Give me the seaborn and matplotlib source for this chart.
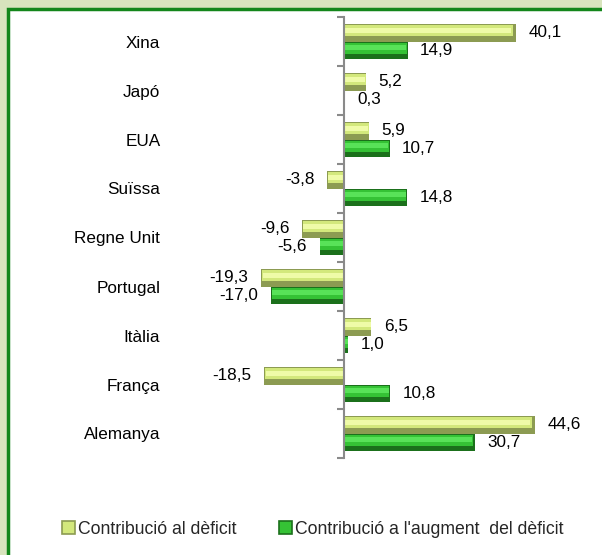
import numpy as np
import pandas as pd
import matplotlib
matplotlib.use("Agg")
import matplotlib.pyplot as plt
from matplotlib.patches import Rectangle, Patch
from matplotlib.ticker import FixedLocator
import seaborn as sns

categories = ["Xina", "Japó", "EUA", "Suïssa", "Regne Unit", "Portugal", "Itàlia", "França", "Alemanya"]
series_names = ["Contribució al dèficit", "Contribució a l'augment  del dèficit"]
contrib_deficit = [40.1, 5.2, 5.9, -3.8, -9.6, -19.3, 6.5, -18.5, 44.6]
contrib_augment = [14.9, 0.3, 10.7, 14.8, -5.6, -17.0, 1.0, 10.8, 30.7]

df = pd.DataFrame({
    "pais": categories * 2,
    "serie": [series_names[0]] * len(categories) + [series_names[1]] * len(categories),
    "valor": contrib_deficit + contrib_augment,
})

sns.set_theme(style="white")
plt.rcParams["font.family"] = ["Liberation Sans", "DejaVu Sans"]

mid_cols = ["#d3e87c", "#35c235"]
hi_cols = ["#effba8", "#58e258"]
edge_cols = ["#8c9b52", "#1b701b"]

fig = plt.figure(figsize=(6.02, 5.55), dpi=100)
fig.patch.set_facecolor("#d8e4bd")
panel = Rectangle((8 / 602, -0.1), 1.2, 1 - 9 / 555 + 0.1, transform=fig.transFigure,
                  facecolor="white", edgecolor="#13861a", linewidth=2.5, zorder=-10)
fig.patches.append(panel)

ax = fig.add_axes([172 / 602, 1 - 458 / 555, 429 / 602, 441 / 555])
ax.set_facecolor("none")

sns.barplot(data=df, x="valor", y="pais", hue="serie", hue_order=series_names,
            order=categories, orient="h", palette=mid_cols, width=0.7,
            edgecolor="none", linewidth=0, ax=ax, legend=False)

ax.set_xlim(-40, 60)
ax.set_ylim(len(categories) - 0.5, -0.5)

# bevel effect and labels from each bar patch
bar_patches = [p for p in ax.patches if isinstance(p, Rectangle)]
n = len(categories)
for i, p in enumerate(bar_patches[:2 * n]):
    s = i // n
    x0, y0, w, h = p.get_x(), p.get_y(), p.get_width(), p.get_height()
    p.set_facecolor(edge_cols[s])
    z = p.get_zorder()
    ax.add_patch(Rectangle((x0, y0 + 0.06 * h), w * 0.985 if abs(w) > 1 else w,
                           0.64 * h, facecolor=mid_cols[s], edgecolor="none", zorder=z + 0.1))
    ax.add_patch(Rectangle((x0, y0 + 0.2 * h), w * 0.975 if abs(w) > 1 else w,
                           0.32 * h, facecolor=hi_cols[s], edgecolor="none", zorder=z + 0.2))
    v = x0 + w
    lab = f"{v:.1f}".replace(".", ",")
    ax.annotate(lab, (v, y0 + h / 2), xytext=(9 if v >= 0 else -9, 0), textcoords="offset points",
                ha="left" if v >= 0 else "right", va="center", fontsize=12.3, color="black")

# axis styling (Excel-like: category axis at zero, labels at far left)
for side in ["top", "right", "bottom"]:
    ax.spines[side].set_visible(False)
ax.spines["left"].set_position(("data", 0))
ax.spines["left"].set_color("#8a8a8a")
ax.spines["left"].set_linewidth(1.5)
ax.set_xticks([])
ax.set_xlabel("")
ax.set_ylabel("")
ax.yaxis.set_minor_locator(FixedLocator(np.arange(-0.5, n, 1.0)))
ax.tick_params(axis="y", which="major", length=0, pad=132, labelsize=12.3, labelcolor="black")
ax.tick_params(axis="y", which="minor", left=True, length=5, width=1.5, color="#8a8a8a", direction="out")
ax.grid(False)

# legend
handles = [Patch(facecolor=mid_cols[k], edgecolor=edge_cols[k], linewidth=1.2) for k in range(2)]
fig.legend(handles, series_names, loc="center", bbox_to_anchor=(0.52, 1 - 529 / 555), ncol=2,
           frameon=False, fontsize=12.7, handlelength=0.7, handleheight=0.7, handletextpad=0.2,
           columnspacing=2.4)

fig.savefig("out.png", dpi=100, facecolor=fig.get_facecolor())
